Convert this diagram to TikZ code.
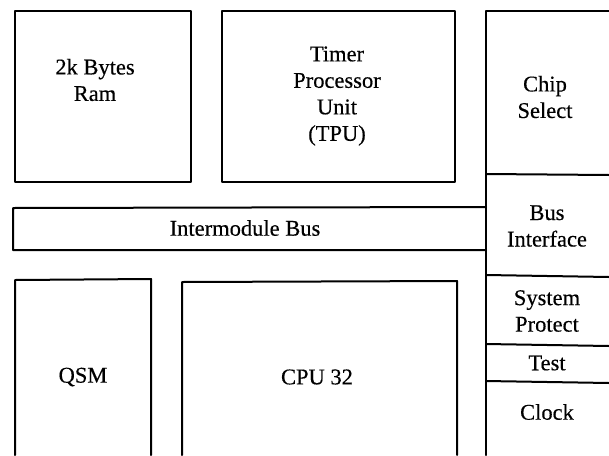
\documentclass[tikz,border=0pt]{standalone}
\usepackage{fontspec}
\setmainfont{Liberation Serif}[FakeBold=0.4]
\begin{document}
\begin{tikzpicture}[x=1pt,y=-1pt,
  blk/.style={line width=2pt,line cap=round,line join=round},
  lbl/.style={align=center,inner sep=0pt,font=\fontsize{22.5}{26.5}\selectfont}]
\useasboundingbox (0,0) rectangle (609,455);
% upper modules
\draw[blk] (15,11) rectangle (191,182);
\draw[blk] (222,11) rectangle (455,182);
% right column: chip select, bus interface, system protect, test, clock
\draw[blk] (609,11) -- (486,11) -- (486,455);
\draw[blk] (486,174) -- (609,175);
\draw[blk] (486,275) -- (609,277);
\draw[blk] (486,344) -- (609,346);
\draw[blk] (486,381) -- (609,383);
% intermodule bus
\draw[blk] (486,207) -- (13,208) -- (13,250) -- (486,250);
% lower modules
\draw[blk] (15,455) -- (15,280) -- (151,279) -- (151,455);
\draw[blk] (182,455) -- (182,282) -- (457,281) -- (457,455);
% labels
\node[lbl] (ram) at (95,80) {2k Bytes\\Ram};
\node[lbl] (tpu) at (337,96) {Timer\\Processor\\Unit\\(TPU)};
\node[lbl] (cs) at (545,97) {Chip\\Select};
\node[lbl] (bus) at (245,228) {Intermodule Bus};
\node[lbl] (bif) at (547,226) {Bus\\Interface};
\node[lbl] (sp) at (547,311) {System\\Protect};
\node[lbl] (tst) at (547,363) {Test};
\node[lbl] (clk) at (547,412) {Clock};
\node[lbl] (qsm) at (83,377) {QSM};
\node[lbl] (cpu) at (317,377) {CPU 32};
\end{tikzpicture}
\end{document}
